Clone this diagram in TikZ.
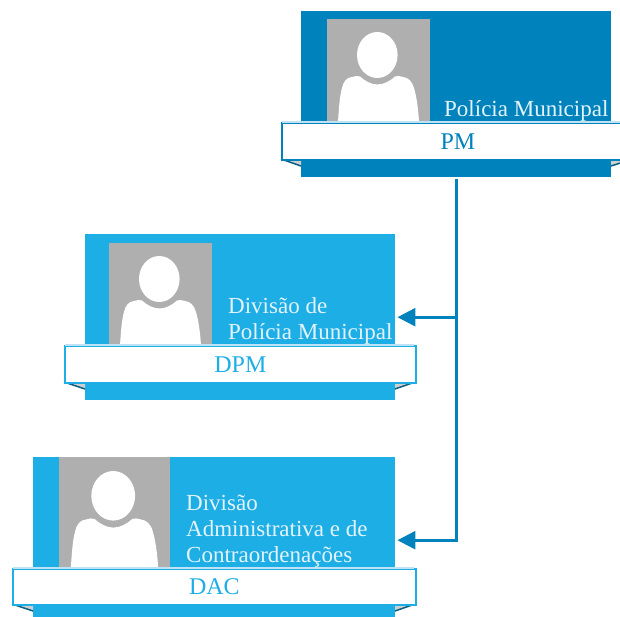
\documentclass[tikz,border=0pt]{standalone}
\usepackage{fontspec}
\setmainfont{Liberation Serif}
\usetikzlibrary{arrows.meta}
\definecolor{cdark}{HTML}{0083BC}
\definecolor{clight}{HTML}{1EAEE6}
\definecolor{ctext}{HTML}{E3F3FB}
\definecolor{ctop}{HTML}{BFE3F5}
\definecolor{cfold}{HTML}{0A5F85}
\definecolor{cgrey}{HTML}{CFCFCF}
\definecolor{cphoto}{HTML}{AFAFAF}
\tikzset{
  cardbox/.style={rectangle,draw=none,inner sep=0pt,anchor=north west},
  photobox/.style={rectangle,draw=none,fill=cphoto,inner sep=0pt,anchor=north west},
  titletext/.style={text=ctext,font=\fontsize{23}{26}\selectfont,align=left,inner sep=0pt,anchor=north west},
  ribbon/.style={rectangle,draw=#1,line width=1.8pt,fill=white,inner sep=0pt,anchor=north west,text=#1,font=\fontsize{24}{26}\selectfont},
  conn/.style={draw=cdark,line width=2.6pt,-{Triangle[length=18pt,width=18pt]},shorten >=2pt},
}
% #1 name, #2 x, #3 y, #4 size
\newcommand{\personat}[4]{%
  \node[photobox,minimum width=#4pt,minimum height=#4pt] (#1) at (#2,#3) {};
  \begin{scope}[shift={(#2,#3)},scale=#4/103]
    \fill[white] (50.3,36) ellipse [x radius=20.3,y radius=23];
    \fill[white] (11,103) .. controls (12,86) and (13,76) .. (15,69)
      .. controls (16.5,62) and (20,58.5) .. (25,58)
      .. controls (28,57) and (31,56.5) .. (33,57.5)
      .. controls (38,62) and (44,65.5) .. (50.5,65.5)
      .. controls (57,65.5) and (63,62) .. (68,57.5)
      .. controls (70,56.5) and (73,57) .. (76,58)
      .. controls (81,58.5) and (85,62) .. (87,69)
      .. controls (89,76) and (91,86) .. (92,103) -- cycle;
  \end{scope}}
% #1 x left, #2 x right, #3 y top, #4 y bottom, #5 x card left, #6 x card right, #7 colour, #8 name, #9 text
\newcommand{\ribbonat}[9]{%
  \fill[cgrey] (#1,#4) -- (#5,#4+7) -- (#5,#4) -- cycle;
  \fill[cgrey] (#2,#4) -- (#6,#4+7) -- (#6,#4) -- cycle;
  \draw[cfold,line width=1.5pt] (#1,#4) -- (#5,#4+7);
  \draw[cfold,line width=1.5pt] (#2,#4) -- (#6,#4+7);
  \node[ribbon=#7,minimum width=#2pt-#1pt,minimum height=#4pt-#3pt] (#8) at (#1,#3) {#9};
  \draw[ctop,line width=1.2pt] (#1+1,#3) -- (#2-1,#3);}
\begin{document}
\begin{tikzpicture}[x=1pt,y=-1pt]
\path[use as bounding box] (0,0) rectangle (620,617);
\clip (0,0) rectangle (620,617);
% PM
\node[cardbox,fill=cdark,minimum width=310pt,minimum height=166pt] (pm) at (301,11) {};
\personat{pmphoto}{327}{19}{103}
\node[titletext] (pmtitle) at (444,100) {Polícia Municipal};
\ribbonat{281}{633}{122}{159}{301}{611}{cdark}{pmribbon}{PM}
% DPM
\node[cardbox,fill=clight,minimum width=310pt,minimum height=166pt] (dpm) at (85,234) {};
\personat{dpmphoto}{109}{243}{103}
\node[titletext] (dpmtitle) at (228,297) {Divisão de\\Polícia Municipal};
\ribbonat{64}{415}{345}{382}{85}{395}{clight}{dpmribbon}{DPM}
% DAC
\node[cardbox,fill=clight,minimum width=362pt,minimum height=166pt] (dac) at (33,457) {};
\personat{dacphoto}{59}{457}{111}
\node[titletext] (dactitle) at (186,495) {Divisão\\Administrativa e de\\Contraordenações};
\ribbonat{12}{415}{568}{604}{33}{395}{clight}{dacribbon}{DAC}
% connectors
\draw[conn] (pm.south) ++(0,2) |- (dpm.east);
\draw[conn] (pm.south) ++(0,2) |- (dac.east);
\end{tikzpicture}
\end{document}
